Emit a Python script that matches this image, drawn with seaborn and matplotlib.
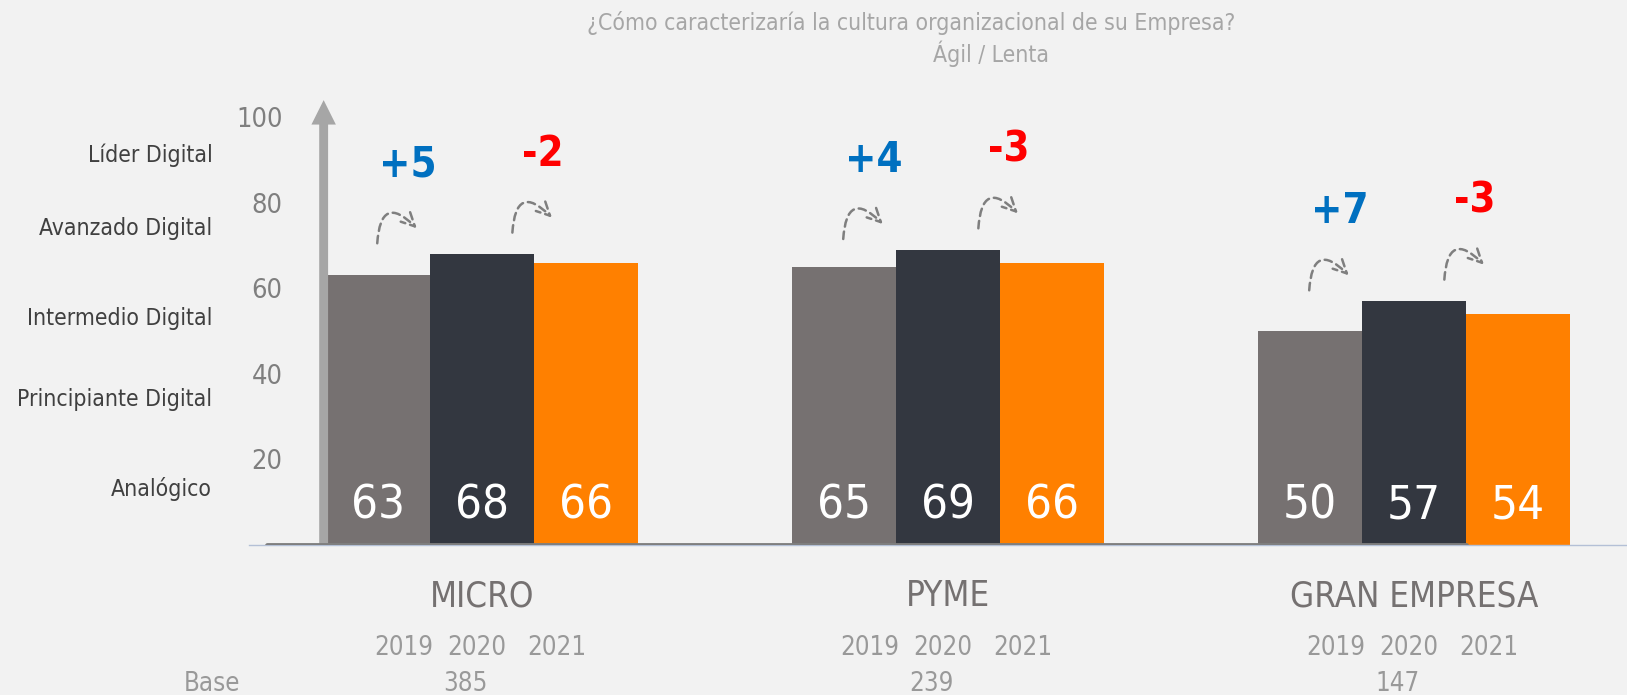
import seaborn as sns
import matplotlib.pyplot as plt
import pandas as pd

# ---- data ----
categories = ['MICRO', 'PYME', 'GRAN EMPRESA']
years = ['2019', '2020', '2021']
v2019 = [63, 65, 50]
v2020 = [68, 69, 57]
v2021 = [66, 66, 54]
bases = [385, 239, 147]
levels = ['Analógico', 'Principiante Digital', 'Intermedio Digital', 'Avanzado Digital', 'Líder Digital']
level_y = [13, 34, 53, 74, 91]
y_ticks = [20, 40, 60, 80, 100]

colors = ['#767171', '#333740', '#FF8000']
bg = '#F2F2F2'

df = pd.DataFrame({
    'cat': categories * 3,
    'year': [y for y in years for _ in categories],
    'val': v2019 + v2020 + v2021,
})

sns.set_style('white')
plt.rcParams['font.family'] = ['DejaVu Sans']
plt.rcParams['font.stretch'] = 'condensed'

fig = plt.figure(figsize=(16.27, 6.95), dpi=100, facecolor=bg)
ax = fig.add_axes([0.1531, 0.2164, 0.8469, 0.6457])
ax.set_facecolor(bg)

sns.barplot(data=df, x='cat', y='val', hue='year', order=categories, hue_order=years,
            palette=colors, saturation=1, width=0.668, linewidth=0, ax=ax, legend=False)

ax.set_xlim(-0.5, 2.457)
ax.set_ylim(0, 105)
ax.set_xlabel('')
ax.set_ylabel('')

for s in ['top', 'right', 'left']:
    ax.spines[s].set_visible(False)
ax.spines['bottom'].set_color('#b4c0d6')
ax.spines['bottom'].set_linewidth(1)

# ticks
ax.set_xticks([0, 1, 2])
ax.set_xticklabels(categories, fontsize=25, color='#757171')
ax.set_xticks([-0.5, 0.5, 1.5], minor=True)
ax.tick_params(axis='x', which='major', length=0, pad=25)
ax.tick_params(axis='x', which='minor', length=12, color='#b4c0d6', width=1)
ax.set_yticks(y_ticks)
ax.set_yticklabels([str(t) for t in y_ticks], fontsize=19.5, color='#7f7f7f')
ax.tick_params(axis='y', length=0, pad=-24)

# dark baseline
ax.axhline(0, xmin=0.013, xmax=0.883, color='#7f7f7f', lw=3.5, zorder=4)

# vertical arrow
ax.annotate('', xy=(-0.34, 104), xytext=(-0.34, 0), xycoords='data',
            arrowprops=dict(arrowstyle='simple,head_length=1.1,head_width=1.1,tail_width=0.4',
                            color='#a6a6a6', lw=0, mutation_scale=16, shrinkA=0, shrinkB=0),
            zorder=3)

# level labels
for lab, y in zip(levels, level_y):
    ax.text(-0.579, y, lab, ha='right', va='center', fontsize=16.5, color='#404040', clip_on=False)

# values inside bars
for cont in ax.containers:
    for bar in cont:
        h = bar.get_height()
        ax.text(bar.get_x() + bar.get_width() / 2, 9, f'{h:.0f}', ha='center', va='center',
                fontsize=34, color='white', zorder=5)

# change labels and curved arrows
for i in range(len(categories)):
    top = max(v2019[i], v2020[i], v2021[i])
    changes = [(v2020[i] - v2019[i], i - 0.16, top + 21),
               (v2021[i] - v2020[i], i + 0.13, top + 23.5)]
    for d, lx, ly in changes:
        col = '#0070C0' if d > 0 else '#FF0000'
        ax.text(lx, ly, f'{d:+d}', ha='center', va='center', fontsize=30,
                fontweight='bold', color=col, clip_on=False)
        ax.annotate('', xy=(lx + 0.02, ly - 15), xytext=(lx - 0.065, ly - 18.5),
                    arrowprops=dict(arrowstyle='->', connectionstyle='arc3,rad=-1.1',
                                    linestyle=(0, (3, 2)), color='#7f7f7f', lw=1.8,
                                    mutation_scale=24, shrinkA=0, shrinkB=0))

# years and base below
for i in range(len(categories)):
    for off, yr in zip([-0.169, -0.011, 0.16], years):
        ax.text(i + off, -24.3, yr, ha='center', va='center', fontsize=18.5,
                color='#999999', clip_on=False)
    ax.text(i - 0.035, -32.5, str(bases[i]), ha='center', va='center', fontsize=18.5,
            color='#999999', clip_on=False)
ax.text(-0.519, -32.5, 'Base', ha='right', va='center', fontsize=18.5, color='#999999', clip_on=False)

# title
fig.text(0.56, 0.967, '¿Cómo caracterizaría la cultura organizacional de su Empresa?',
         ha='center', va='center', fontsize=16.5, color='#a6a6a6')
fig.text(0.609, 0.922, 'Ágil / Lenta', ha='center', va='center', fontsize=16.5, color='#a6a6a6')

fig.savefig('out.png', dpi=100, facecolor=bg)
